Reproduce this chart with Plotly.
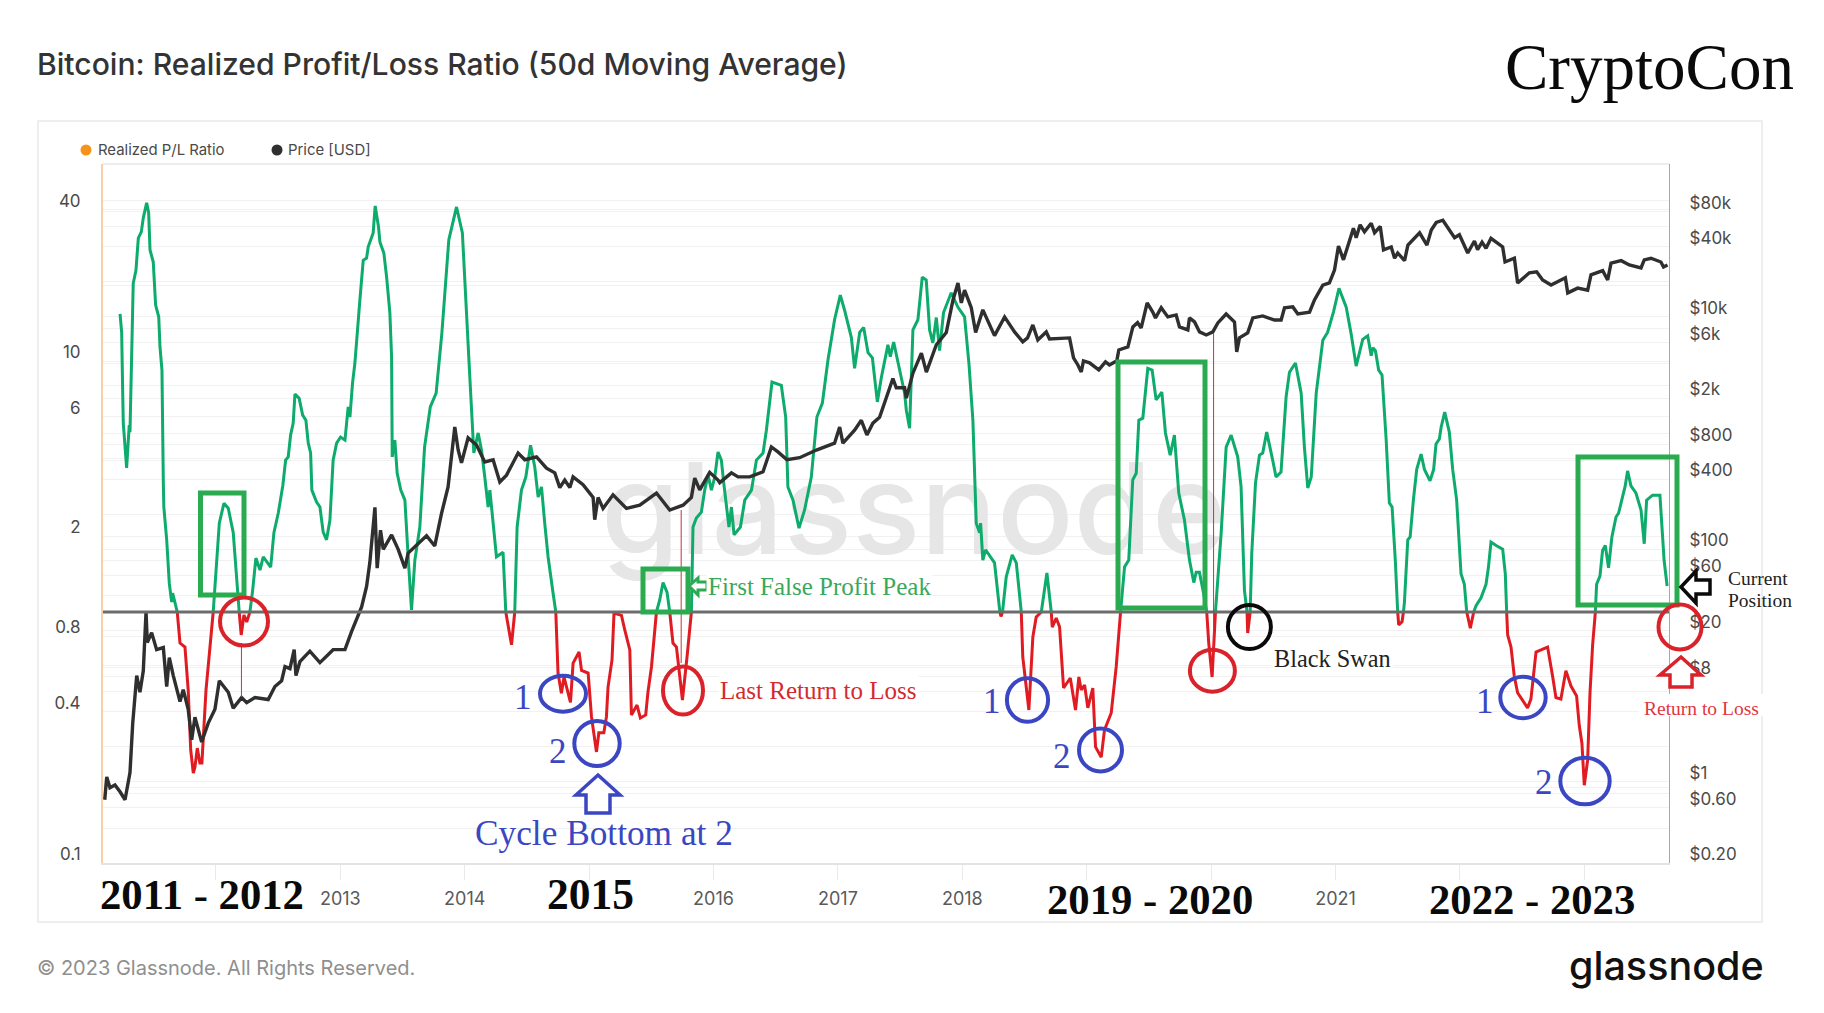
import plotly.graph_objects as go

ratio_years = [2011.229,2011.242,2011.250,2011.255,2011.282,2011.303,2011.309,2011.323,2011.335,2011.357,2011.376,2011.400,2011.416,2011.443,2011.459,2011.470,2011.496,2011.515,2011.540,2011.550,2011.566,2011.577,2011.581,2011.604,2011.625,2011.644,2011.652,2011.689,
2011.711,2011.751,2011.777,2011.797,2011.818,2011.831,2011.850,2011.871,2011.887,2011.920,2011.957,2011.978,2012.006,2012.027,2012.064,2012.099,2012.139,2012.171,2012.187,2012.203,2012.225,2012.247,2012.273,2012.295,2012.321,2012.354,2012.380,2012.440,2012.466,2012.501,2012.538,2012.560,2012.581,2012.600,2012.621,2012.635,2012.669,2012.697,2012.723,2012.742,2012.761,2012.771,2012.809,2012.836,2012.862,2012.889,2012.916,2012.932,2012.942,2012.970,
2013.002,2013.037,2013.063,2013.077,2013.098,2013.117,2013.135,2013.157,2013.184,2013.211,2013.224,2013.264,2013.280,2013.307,2013.318,2013.350,2013.372,2013.398,2013.412,2013.417,2013.438,2013.457,2013.486,2013.519,2013.545,2013.572,2013.599,2013.639,2013.677,2013.723,2013.770,2013.816,2013.872,2013.934,2013.981,
2014.004,2014.041,2014.057,2014.073,2014.108,2014.135,2014.161,2014.188,2014.202,2014.234,2014.255,2014.308,2014.330,2014.376,2014.402,2014.421,2014.456,2014.491,2014.529,2014.563,2014.590,2014.617,2014.643,2014.670,2014.710,2014.732,2014.750,2014.777,2014.798,2014.850,2014.871,2014.919,2014.939,2014.992,
2015.019,2015.059,2015.078,2015.118,2015.139,2015.152,2015.184,2015.200,2015.260,2015.286,2015.327,2015.340,2015.385,2015.412,2015.455,2015.473,2015.501,2015.541,2015.568,2015.594,2015.626,2015.648,2015.674,2015.702,2015.750,2015.787,2015.822,2015.835,2015.862,2015.902,2015.929,2015.956,2015.983,
2016.010,2016.036,2016.063,2016.082,2016.124,2016.144,2016.165,2016.216,2016.251,2016.305,2016.345,2016.398,2016.425,2016.470,2016.545,2016.580,2016.598,2016.639,2016.687,2016.732,2016.786,2016.831,2016.875,2016.920,2016.973,
2017.019,2017.054,2017.108,2017.134,2017.175,2017.207,2017.242,2017.277,2017.317,2017.349,2017.402,2017.421,2017.448,2017.496,2017.536,2017.550,2017.576,2017.603,2017.643,2017.678,2017.710,2017.737,2017.763,2017.791,2017.817,2017.849,2017.911,2017.964,
2018.018,2018.053,2018.085,2018.112,2018.139,2018.147,2018.165,2018.187,2018.259,2018.291,2018.302,2018.311,2018.323,2018.353,2018.401,2018.434,2018.474,2018.486,2018.535,2018.567,2018.594,2018.635,2018.680,2018.715,2018.723,2018.755,2018.782,2018.814,2018.868,2018.910,2018.937,2018.956,2018.983,
2019.009,2019.049,2019.071,2019.117,2019.143,2019.197,2019.237,2019.272,2019.304,2019.338,2019.370,2019.398,2019.419,2019.451,2019.491,2019.526,2019.558,2019.604,2019.633,2019.671,2019.705,2019.740,2019.786,2019.826,2019.861,2019.880,2019.906,2019.939,2019.965,2019.981,
2020.008,2020.035,2020.053,2020.081,2020.121,2020.161,2020.214,2020.241,2020.268,2020.289,2020.294,2020.314,2020.327,2020.357,2020.389,2020.415,2020.447,2020.495,2020.522,2020.562,2020.603,2020.630,2020.678,2020.724,2020.750,2020.777,2020.805,2020.845,2020.898,2020.936,2020.984,
2021.028,2021.086,2021.126,2021.166,2021.219,2021.259,2021.287,2021.300,2021.321,2021.347,2021.374,2021.407,2021.433,2021.455,2021.481,2021.500,2021.508,2021.535,2021.546,2021.554,2021.581,2021.600,2021.626,2021.653,2021.688,2021.715,2021.760,2021.789,2021.808,2021.835,2021.849,2021.878,2021.915,2021.942,2021.974,2021.996,
2022.009,2022.036,2022.055,2022.084,2022.111,2022.130,2022.170,2022.210,2022.229,2022.250,2022.291,2022.344,2022.365,2022.376,2022.384,2022.411,2022.437,2022.464,2022.504,2022.544,2022.571,2022.612,2022.652,2022.705,2022.745,2022.772,2022.812,2022.852,2022.893,2022.938,2022.960,2022.981,
2023.000,2023.027,2023.046,2023.067,2023.089,2023.099,2023.126,2023.147,2023.169,2023.195,2023.222,2023.255,2023.276,2023.308,2023.329,2023.348,2023.375,2023.415,2023.456,2023.482,2023.501,2023.549,2023.608,2023.642,2023.666]

ratio_values = [15.4,13.0,7.67,5.66,3.75,5.55,5.21,9.82,20.4,23.0,30.9,32.7,37.2,42.7,39.0,27.7,24.8,16.7,15.0,11.4,9.2,3.27,2.62,1.94,1.30,1.096,1.19,1.0,
0.752,0.725,0.488,0.282,0.228,0.241,0.287,0.250,0.250,0.488,0.752,1.0,1.57,2.26,2.71,2.59,2.07,1.34,1.0,0.81,0.973,0.912,1.0,1.22,1.64,1.47,1.66,1.51,2.07,2.48,3.2,4.03,4.15,5.07,5.66,7.38,7.1,6.09,5.81,4.71,4.3,3.06,2.74,2.62,2.08,1.94,2.32,3.06,4.03,4.71,
4.98,4.84,6.56,5.98,8.17,9.82,13.0,17.5,25.2,25.7,28.5,32.4,41.5,34.2,29.8,26.9,21.6,15.6,10.4,4.15,4.84,3.57,3.06,2.79,1.66,1.02,1.61,2.18,4.54,6.56,7.45,12.9,30.4,41.1,32.4,
18.7,8.6,6.1,4.3,5.17,4.41,3.45,2.62,3.06,2.07,1.66,1.73,1.0,0.74,1.0,2.18,3.06,3.45,4.62,3.78,2.87,3.15,2.26,1.66,1.19,1.0,0.571,0.475,0.551,0.436,0.626,0.693,0.585,0.571,
0.382,0.277,0.33,0.33,0.382,0.502,0.644,0.99,0.97,0.85,0.706,0.389,0.426,0.378,0.389,0.48,0.604,1.0,1.12,1.31,1.2,1.0,0.752,0.725,0.446,0.662,1.0,2.18,2.37,2.5,3.06,3.51,3.06,
3.45,4.34,4.03,3.27,2.18,2.62,2.03,2.18,2.79,3.06,4.03,4.3,5.3,8.25,8.0,5.98,3.15,2.79,2.16,2.55,3.45,5.98,6.8,10.1,14.6,
18.3,15.9,12.4,9.35,13.0,13.6,10.8,10.3,6.87,8.6,11.6,10.4,11.9,9.2,7.45,6.37,5.4,13.3,14.6,21.6,21.0,13.3,11.8,14.9,11.0,15.6,18.7,16.4,
15.0,9.82,5.81,2.26,2.07,2.26,1.61,1.77,1.57,1.12,1.0,0.96,1.0,1.38,1.69,1.57,1.0,0.662,0.407,0.795,0.955,1.0,1.43,1.0,0.871,0.946,0.871,0.498,0.546,0.407,0.551,0.489,0.512,
0.415,0.498,0.29,0.264,0.339,0.396,0.604,1.0,1.51,1.61,3.36,3.57,5.81,5.92,9.35,9.2,7.0,7.52,5.17,4.22,5.07,2.98,2.32,1.61,1.31,1.44,1.44,1.19,1.0,0.752,
0.551,1.0,1.34,2.07,4.54,5.07,4.15,3.15,1.22,1.0,0.825,1.0,1.72,3.27,4.22,4.3,5.21,4.03,3.45,3.61,7.2,9.02,9.82,7.45,4.54,3.12,3.45,7.45,12.1,13.0,15.7,
19.5,16.4,12.8,9.55,12.2,12.6,10.5,11.3,11.0,9.2,8.8,4.89,2.72,2.62,1.6,1.0,0.888,0.915,1.0,1.09,1.94,1.99,2.79,3.7,4.26,3.7,3.33,3.7,4.67,4.89,5.45,6.26,5.21,3.7,2.79,1.94,
1.42,1.29,1.0,0.863,1.0,1.06,1.14,1.29,1.5,1.9,1.84,1.78,1.42,1.0,0.81,0.725,0.556,0.477,0.442,0.415,0.45,0.693,0.706,0.725,0.556,0.456,0.45,0.584,0.507,0.463,0.352,0.3,
0.204,0.257,0.477,0.739,1.0,1.29,1.39,1.76,1.84,1.5,1.99,2.39,2.48,2.88,3.18,3.65,3.18,2.98,2.55,1.87,2.79,2.92,2.92,1.6,1.27]

price_years = [2011.106,2011.122,2011.148,2011.188,2011.229,2011.269,2011.309,2011.331,2011.363,2011.389,2011.416,2011.438,2011.448,2011.483,2011.523,2011.577,2011.604,2011.625,2011.657,2011.711,2011.737,2011.777,2011.805,2011.831,2011.885,2011.938,2011.992,
2012.027,2012.099,2012.139,2012.206,2012.247,2012.313,2012.420,2012.474,2012.528,2012.555,2012.595,2012.629,2012.643,2012.675,2012.755,2012.836,2012.942,
2013.037,2013.090,2013.171,2013.211,2013.237,2013.278,2013.296,2013.323,2013.345,2013.412,2013.465,2013.519,2013.545,2013.639,2013.693,2013.759,2013.813,2013.866,2013.920,2013.947,2013.974,
2014.027,2014.095,2014.161,2014.228,2014.282,2014.336,2014.429,2014.483,2014.577,2014.657,2014.724,2014.764,2014.804,2014.845,2014.871,2014.951,
2015.032,2015.045,2015.072,2015.112,2015.192,2015.300,2015.407,2015.541,2015.648,2015.755,2015.822,2015.849,2015.889,2015.969,
2016.036,2016.050,2016.144,2016.197,2016.291,2016.398,2016.465,2016.518,2016.590,2016.692,2016.827,2016.973,
2017.014,2017.040,2017.134,2017.188,2017.233,2017.281,2017.335,2017.402,2017.442,2017.469,2017.536,2017.550,2017.603,2017.671,2017.711,2017.791,2017.871,2017.925,2017.965,2017.992,
2018.018,2018.072,2018.107,2018.165,2018.259,2018.340,2018.380,2018.420,2018.486,2018.524,2018.567,2018.607,2018.675,2018.701,2018.862,2018.894,2018.929,2018.956,2018.974,
2019.023,2019.097,2019.151,2019.183,2019.242,2019.258,2019.331,2019.371,2019.409,2019.438,2019.486,2019.531,2019.553,2019.599,2019.652,2019.719,2019.746,2019.813,2019.826,2019.867,2019.907,2019.961,
2020.014,2020.054,2020.121,2020.188,2020.206,2020.228,2020.294,2020.335,2020.415,2020.509,2020.563,2020.590,2020.657,2020.697,2020.791,2020.831,2020.898,2020.951,2020.992,
2021.024,2021.064,2021.112,2021.144,2021.166,2021.198,2021.233,2021.287,2021.314,2021.360,2021.386,2021.448,2021.475,2021.500,2021.555,2021.582,2021.676,2021.735,2021.770,2021.810,2021.863,2021.917,2021.957,2021.996,
2022.063,2022.117,2022.142,2022.178,2022.210,2022.250,2022.344,2022.363,2022.438,2022.464,2022.558,2022.617,2022.665,2022.733,2022.848,2022.867,2022.947,
2023.027,2023.054,2023.148,2023.188,2023.215,2023.296,2023.362,2023.456,2023.482,2023.536,2023.616,2023.637,2023.669]

price_values = [0.70,1.1,0.89,0.94,0.82,0.70,1.2,3.2,8.2,5.9,9,29,15.8,19.2,13.7,14.3,6.6,11.7,8.2,4.9,6.2,4.2,2.3,3.6,2.2,3.2,4.2,
7.4,5.9,4.3,5.3,4.8,5.3,5.1,6.6,7.4,9.8,9.4,13.7,8.2,10.8,13.3,10.6,13.7,
13.7,19.6,32,48,77,230,69,146,100,133,100,69,93,117,131,107,203,345,1130,716,555,
910,790,565,590,380,435,675,590,625,500,455,340,395,340,420,360,
280,180,280,225,295,225,240,305,218,240,280,410,325,460,
395,375,455,420,420,465,760,690,590,615,715,820,
1130,820,1060,1290,965,1220,1370,2200,2950,2460,2460,2000,3280,4880,3350,5760,7350,14000,19600,13200,
17000,12000,7350,11500,6900,10000,8530,7430,6100,6600,8530,6340,7430,6470,6600,4440,3860,3360,4190,
4030,3500,4100,3860,4190,5200,5520,8200,8930,8040,13200,11000,9800,12000,10000,10400,8200,7730,9800,9060,7430,7000,
7430,8880,10600,9060,5000,6600,7290,9800,10200,9400,9400,12000,12200,10600,11000,14000,18800,19600,25300,
40800,31000,45000,58000,48000,62000,54000,64000,53000,60000,37800,40000,32000,35500,30500,41500,53000,41500,56000,65000,68000,56000,48000,51000,
35500,45000,38000,44000,39000,47500,40000,29700,32000,19600,24000,24500,20800,18800,21700,16100,17700,
17000,23000,25000,20800,29000,30500,28000,26400,31000,32000,29700,26900,28000]

ratio_ticks = [0.1,0.2,0.4,0.6,0.8,1,2,4,6,8,10,20,40]
ratio_tick_text = ["0.1","","0.4","","0.8","","2","","6","","10","","40"]
price_ticks = [0.2,0.4,0.6,0.8,1,2,4,6,8,10,20,40,60,80,100,200,400,600,800,1000,2000,4000,6000,8000,10000,20000,40000,60000,80000,100000]
price_tick_text = ["$0.20","","$0.60","","$1","","","","$8","","$20","","$60","","$100","","$400","","$800","","$2k","","$6k","","$10k","","$40k","","$80k",""]
year_ticks = list(range(2012, 2024))
year_tick_text = ["","2013","2014","","2016","2017","2018","","","2021","",""]
spike_years = [2012.205, 2015.74, 2020.02]

L, R, T, B = 103, 1669, 164, 863
def px(x): return (x - L) / (R - L)
def py(y): return (B - y) / (B - T)

GREEN, RED, BLACK = "#0dab6c", "#e01b22", "#2f2f2f"
BOX_G, CIRC_R, CIRC_B = "#2bab50", "#d9222a", "#3b47c2"

green_y = [v if v >= 1 else None for v in ratio_values]
red_y = [v if v <= 1 else None for v in ratio_values]

fig = go.Figure()
fig.add_trace(go.Scatter(x=[2017.61], y=[2.28], mode="text", text=["glassnode"], hoverinfo="skip",
                         textfont=dict(family="Inter", size=127, color="#e6e6e6", weight=500), showlegend=False))
fig.add_trace(go.Scatter(x=ratio_years, y=green_y, mode="lines", name="Realized P/L Ratio",
                         line=dict(color=GREEN, width=3), showlegend=False))
fig.add_trace(go.Scatter(x=ratio_years, y=red_y, mode="lines", name="Realized P/L Ratio (loss)",
                         line=dict(color=RED, width=3), showlegend=False))
fig.add_trace(go.Scatter(x=price_years, y=price_values, mode="lines", name="Price [USD]", yaxis="y2",
                         line=dict(color=BLACK, width=3.4), showlegend=False))

shapes, notes = [], []
def rect(x0, y0, x1, y1, color, width=5, fill=None, layer="above"):
    shapes.append(dict(type="rect", xref="paper", yref="paper", x0=px(x0), x1=px(x1), y0=py(y0), y1=py(y1),
                       line=dict(color=color, width=width), fillcolor=fill, layer=layer))
def oval(cx, cy, rx, ry, color, width=4, fill=None):
    shapes.append(dict(type="circle", xref="paper", yref="paper", x0=px(cx-rx), x1=px(cx+rx), y0=py(cy-ry), y1=py(cy+ry),
                       line=dict(color=color, width=width), fillcolor=fill, layer="above"))
def poly(points, color, width=3.5, fill="#ffffff"):
    path = "M " + " L ".join(f"{px(a):.5f} {py(b):.5f}" for a, b in points) + " Z"
    shapes.append(dict(type="path", xref="paper", yref="paper", path=path,
                       line=dict(color=color, width=width), fillcolor=fill, layer="above"))
def text(s, x, y, size, color, family="Liberation Serif", anchor="left", bold=False, bg=None, weight=None):
    notes.append(dict(text=f"<b>{s}</b>" if bold else s, xref="paper", yref="paper", x=px(x), y=py(y),
                      xanchor=anchor, yanchor="middle", showarrow=False, bgcolor=bg,
                      font=dict(family=family, size=size, color=color, weight=weight)))

# frame and threshold
rect(38, 121, 1762, 922, "#e9e9e9", width=1.5, layer="below")
shapes.append(dict(type="line", xref="paper", yref="paper", x0=0, x1=1, y0=1, y1=1, line=dict(color="#e6e6e6", width=1.5), layer="below"))
shapes.append(dict(type="line", xref="paper", yref="y", x0=0, x1=1, y0=1, y1=1, line=dict(color="#6c6c6c", width=3), layer="above"))
# thin spikes
for yr, a, b in zip(spike_years, [643, 510, 333], [697, 663, 653]):
    shapes.append(dict(type="line", xref="x", yref="paper", x0=yr, x1=yr, y0=py(a), y1=py(b), line=dict(color="#c8323a", width=1), layer="above"))

# green boxes
rect(200.5, 493, 244, 595, BOX_G)
rect(643, 569, 688, 612, BOX_G)
rect(1118, 362, 1205, 608, BOX_G)
rect(1578, 457, 1677, 605, BOX_G)
# circles
for c in [(244, 621.5, 24, 24), (683, 690.5, 20, 24), (1212.4, 670.7, 22.5, 21), (1680, 627, 21.5, 22.5)]:
    oval(*c, CIRC_R)
for c in [(563, 693.7, 23, 18), (597, 743.5, 22.7, 22.5), (1027.5, 700, 20.6, 21.7), (1100.5, 750, 21.5, 21.5), (1523, 697.5, 22.7, 20.7), (1585, 781, 24.7, 23.3)]:
    oval(*c, CIRC_B)
oval(1249.4, 627, 21.5, 22, "#0a0a0a")
# arrows
poly([(598,775),(620,795),(610,795),(610,813),(586,813),(586,795),(576,795)], CIRC_B)
poly([(1681,657),(1701,675),(1692,675),(1692,687),(1670,687),(1670,675),(1660,675)], CIRC_R)
poly([(1681,587),(1696,571),(1696,580),(1710,580),(1710,594),(1696,594),(1696,603)], "#0a0a0a")
poly([(689,586),(698,578),(698,582),(707,582),(707,590),(698,590),(698,595)], BOX_G, width=3)
# white patch
rect(1639, 694, 1768, 716, "#ffffff", width=0, fill="#ffffff")

# legend-like header
oval(86, 150, 5.5, 5.5, "#f7931a", width=0, fill="#f7931a")
oval(277, 150, 5.5, 5.5, "#2f2f2f", width=0, fill="#2f2f2f")
text("Realized P/L Ratio", 96, 150, 14.9, "#4a4a4a", family="Inter")
text("Price [USD]", 286, 150, 14.9, "#4a4a4a", family="Inter")

# titles and footer
text("Bitcoin: Realized Profit/Loss Ratio (50d Moving Average)", 35, 64, 30.1, "#333333", family="Inter", weight=500)
text("CryptoCon", 1649, 67, 65, "#0a0a0a", anchor="center")
text("© 2023 Glassnode. All Rights Reserved.", 35, 968, 20, "#8f8f8f", family="Inter")
text("glassnode", 1666, 966, 39.5, "#111111", family="Inter", anchor="center", weight=500)

# overlay notes
text("First False Profit Peak", 706, 586, 25, "#3aa85a", bg="#ffffff")
text("Last Return to Loss", 718, 690, 25, "#d42a2f", bg="#ffffff")
text("Black Swan", 1272, 658, 24.3, "#222222", bg="#ffffff")
text("Current", 1726, 578, 19.5, "#222222")
text("Position", 1726, 600, 19.5, "#222222")
text("Return to Loss", 1701, 708, 19.5, "#df3540", anchor="center")
text("Cycle Bottom at 2", 604, 833, 35.3, CIRC_B, anchor="center")
for s, x, y in [("1", 523, 697), ("2", 558, 751), ("1", 992, 701), ("2", 1062, 756), ("1", 1485, 701), ("2", 1544, 782)]:
    text(s, x, y, 35, CIRC_B, anchor="center")
text("2011 - 2012", 202, 895, 42.7, "#0a0a0a", anchor="center", bold=True)
text("2015", 590, 894, 43.5, "#0a0a0a", anchor="center", bold=True)
text("2019 - 2020", 1150, 899, 42.7, "#0a0a0a", anchor="center", bold=True)
text("2022 - 2023", 1532, 899, 42.7, "#0a0a0a", anchor="center", bold=True)

GRID = "#f1f1f1"
fig.update_layout(
    width=1824, height=1013, autosize=False,
    margin=dict(l=L, r=1824-R, t=T, b=1013-B, pad=0),
    paper_bgcolor="#ffffff", plot_bgcolor="#ffffff", showlegend=False,
    shapes=shapes, annotations=notes,
    xaxis=dict(type="linear", range=[2011.092, 2023.681], tickvals=year_ticks, ticktext=year_tick_text,
               showgrid=False, zeroline=False, showline=True, linecolor="#e3e3e3", linewidth=1.5,
               ticks="outside", ticklen=15, tickwidth=1.2, tickcolor="#e9e9e9", ticklabelstandoff=4,
               tickfont=dict(family="Inter", size=18, color="#5a5a5a")),
    yaxis=dict(type="log", range=[-1, 1.785], tickvals=ratio_ticks, ticktext=ratio_tick_text,
               showgrid=True, gridcolor=GRID, gridwidth=1.3, zeroline=False, showline=True,
               linecolor="#f9cfa8", linewidth=2, ticks="", ticklabelstandoff=17, ticklabelshift=-9,
               tickfont=dict(family="Inter", size=17, color="#4a4a4a")),
    yaxis2=dict(type="log", range=[-0.699, 5.316], overlaying="y", side="right", tickvals=price_ticks, ticktext=price_tick_text,
                showgrid=True, gridcolor=GRID, gridwidth=1.3, zeroline=False, showline=True,
                linecolor="#a8a8a8", linewidth=1.2, ticks="", ticklabelstandoff=16, ticklabelshift=-9,
                tickfont=dict(family="Inter", size=17, color="#4a4a4a")),
)
fig.write_html("out.html", config={"displayModeBar": False}, post_script="document.body.style.margin='0';")
